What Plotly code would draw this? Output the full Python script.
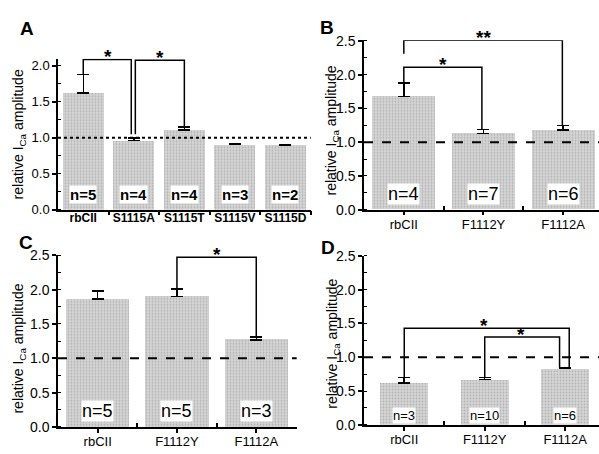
import plotly.graph_objects as go

# ---------------- data ----------------
cats_A = ["rbCII", "S1115A", "S1115T", "S1115V", "S1115D"]
mean_A = [1.62, 0.96, 1.11, 0.91, 0.90]
err_A = [0.26, 0.04, 0.04, 0.01, 0.0]
n_A = ["n=5", "n=4", "n=4", "n=3", "n=2"]

cats_B = ["rbCII", "F1112Y", "F1112A"]
mean_B = [1.68, 1.13, 1.18]
err_B = [0.20, 0.06, 0.07]
n_B = ["n=4", "n=7", "n=6"]

cats_C = ["rbCII", "F1112Y", "F1112A"]
mean_C = [1.86, 1.90, 1.27]
err_C = [0.12, 0.11, 0.04]
n_C = ["n=5", "n=5", "n=3"]

cats_D = ["rbCII", "F1112Y", "F1112A"]
mean_D = [0.62, 0.67, 0.83]
err_D = [0.08, 0.03, 0.02]
n_D = ["n=3", "n=10", "n=6"]

# significance brackets: (x_left, x_right, top, bottom_left, bottom_right, label, label_x)
brk_A = [(0, 0.95, 2.09, 1.88, 1.05, "*", 0.48),
         (1.03, 2.0, 2.08, 1.05, 1.15, "*", 1.52)]
brk_B = [(0, 0.98, 2.11, 1.88, 1.19, "*", 0.49),
         (0, 1.99, 2.51, 2.31, 1.25, "**", 1.0)]
brk_C = [(1, 2.0, 2.47, 2.01, 1.31, "*", 1.5)]
brk_D = [(0, 2.05, 1.43, 0.70, 0.85, "*", 0.99),
         (1, 1.93, 1.30, 0.70, 0.85, "*", 1.45)]

FONT = "Liberation Sans, Arial, sans-serif"

panels = [
    dict(cats=cats_A, mean=mean_A, err=err_A, n=n_A, brk=brk_A,
         xd=[58/599, 310.7/599], yd=[(454-209)/454, (454-52.6)/454],
         xr=[-0.5, 4.5], yr=[0, 2.1], bw=0.81, nfs=15, ny=0.21, nbold=True,
         catbold=True, catfs=12, tfs=13, dash="dot", stand=-4),
    dict(cats=cats_B, mean=mean_B, err=err_B, n=n_B, brk=brk_B,
         xd=[364/599, 1.0], yd=[(454-209)/454, (454-33.5)/454],
         xr=[-0.5, 2.45], yr=[0, 2.51], bw=0.79, nfs=18, ny=0.23, nbold=False,
         catbold=False, catfs=13, tfs=14, dash="dash", stand=-2),
    dict(cats=cats_C, mean=mean_C, err=err_C, n=n_C, brk=brk_C,
         xd=[58/599, 296.7/599], yd=[(454-434.3)/454, (454-256.3)/454],
         xr=[-0.5, 2.51], yr=[0, 2.5], bw=0.8, nfs=18, ny=0.24, nbold=False,
         catbold=False, catfs=13, tfs=14, dash="dash", stand=-2),
    dict(cats=cats_D, mean=mean_D, err=err_D, n=n_D, brk=brk_D,
         xd=[364/599, 1.0], yd=[(454-432)/454, (454-257)/454],
         xr=[-0.5, 2.42], yr=[0, 2.5], bw=0.6, nfs=13, ny=0.14, nbold=False,
         catbold=False, catfs=13, tfs=14, dash="dash", stand=-2),
]

fig = go.Figure()
shapes = []
annotations = []

for i, p in enumerate(panels):
    k = "" if i == 0 else str(i + 1)
    xa, ya = "x" + k, "y" + k
    idx = list(range(len(p["cats"])))
    fig.add_trace(go.Bar(
        x=idx, y=p["mean"], width=p["bw"], xaxis=xa, yaxis=ya,
        marker=dict(color="#d2d2d2", line=dict(width=0),
                    pattern=dict(shape=".", fgcolor="#8c8c8c", bgcolor="#d6d6d6",
                                 size=3, solidity=0.3)),
        error_y=dict(type="data", symmetric=False, array=p["err"],
                     arrayminus=[0] * len(idx), color="black", thickness=1.5, width=6),
        showlegend=False, hoverinfo="skip"))
    shapes.append(dict(type="line", xref=xa + " domain", yref=ya, x0=0, x1=1, y0=1, y1=1,
                       line=dict(color="black", width=2, dash=p["dash"]), layer="above"))
    for j, t in enumerate(p["n"]):
        txt = "<b>%s</b>" % t if p["nbold"] else t
        annotations.append(dict(x=j, y=p["ny"], xref=xa, yref=ya, text=txt, showarrow=False,
                                xanchor="center", yanchor="middle",
                                bgcolor="white", borderpad=0,
                                font=dict(family=FONT, size=p["nfs"], color="black")))
    for (xl, xr_, top, bl, br, lab, lx) in p["brk"]:
        shapes.append(dict(type="path", xref=xa, yref=ya,
                           path="M %g,%g L %g,%g L %g,%g L %g,%g" % (xl, bl, xl, top, xr_, top, xr_, br),
                           line=dict(color="black", width=1.5)))
        annotations.append(dict(x=lx, y=top, xref=xa, yref=ya, text="<b>%s</b>" % lab,
                                showarrow=False, xanchor="center", yanchor="bottom", yshift=-10,
                                font=dict(family=FONT, size=19, color="black")))
    ticktext = ["<b>%s</b>" % c for c in p["cats"]] if p["catbold"] else p["cats"]
    minor_vals = [j + 0.5 for j in idx[:-1]] + ([idx[-1] + 0.5] if i == 0 else [])
    xaxis = dict(domain=p["xd"], range=p["xr"], anchor=ya, tickmode="array", tickvals=idx,
                 ticktext=ticktext, showline=True, linecolor="black", linewidth=1.5,
                 showgrid=False, zeroline=False, fixedrange=True,
                 ticks="" if i == 0 else "outside", ticklen=4, tickwidth=1.5, tickcolor="black",
                 ticklabelstandoff=p["stand"],
                 tickfont=dict(family=FONT, size=p["catfs"], color="black"),
                 minor=dict(tickmode="array", tickvals=minor_vals,
                            ticks="outside" if i == 0 else "inside", ticklen=4, tickwidth=1.5,
                            tickcolor="black", showgrid=False))
    yaxis = dict(domain=p["yd"], range=p["yr"], anchor=xa, tickmode="array",
                 tickvals=[0, 0.5, 1.0, 1.5, 2.0] + ([] if i == 0 else [2.5]),
                 ticktext=["0.0", "0.5", "1.0", "1.5", "2.0"] + ([] if i == 0 else ["2.5"]),
                 showline=True, linecolor="black", linewidth=1.5, showgrid=False, zeroline=False,
                 ticks="outside", ticklen=4, tickwidth=1.5, tickcolor="black",
                 tickfont=dict(family=FONT, size=p["tfs"], color="black"), fixedrange=True,
                 minor=dict(dtick=0.25, tick0=0, ticks="inside", ticklen=3, tickwidth=1,
                            tickcolor="black", showgrid=False))
    fig.update_layout(**{"xaxis" + k: xaxis, "yaxis" + k: yaxis})

ytitle = "relative I<sub>Ca</sub> amplitude"
for (tx, ty) in [(19, 131), (332, 127), (19, 353), (333, 348)]:
    annotations.append(dict(x=tx/599, y=(454-ty)/454, xref="paper", yref="paper", text=ytitle,
                            textangle=-90, xanchor="center", yanchor="middle",
                            showarrow=False, font=dict(family=FONT, size=14, color="black")))

for (lt, tx, ty) in [("A", 27, 21), ("B", 327, 20), ("C", 26, 243), ("D", 328, 248)]:
    annotations.append(dict(x=tx/599, y=(454-ty)/454, xref="paper", yref="paper",
                            text="<b>%s</b>" % lt, showarrow=False,
                            xanchor="center", yanchor="middle",
                            font=dict(family=FONT, size=19, color="black")))

fig.update_layout(width=599, height=454, margin=dict(l=0, r=0, t=0, b=0),
                  paper_bgcolor="white", plot_bgcolor="white",
                  shapes=shapes, annotations=annotations, bargap=0)

fig.write_html("out.html", config={"displayModeBar": False},
               post_script="document.body.style.margin='0';")
